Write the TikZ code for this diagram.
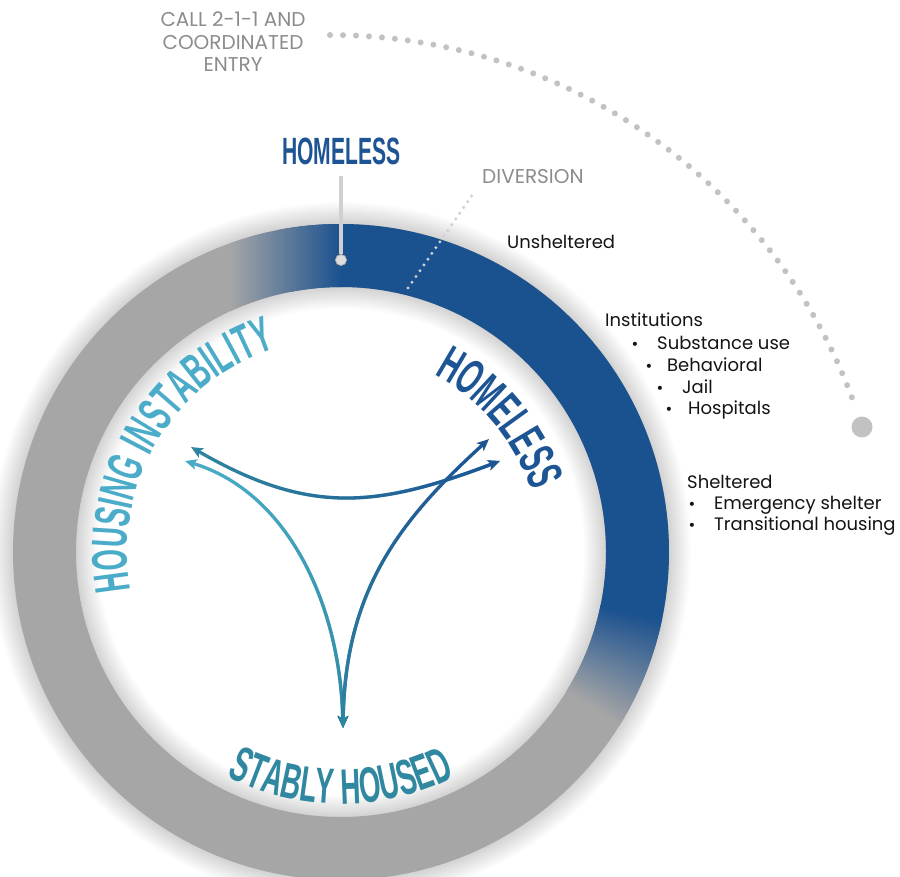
\documentclass[tikz,border=0pt]{standalone}
\usepackage{fontspec}
\setmainfont{Poppins}
\newfontfamily\condfont{Liberation Sans}[FakeStretch=0.555]
\newfontfamily\bulletfont{DejaVu Sans}
\usetikzlibrary{arrows.meta,decorations.text,fadings}
\definecolor{ringblue}{RGB}{26,81,143}
\definecolor{ringgray}{RGB}{166,166,166}
\definecolor{hiblue}{RGB}{74,172,200}
\definecolor{tealc}{RGB}{47,135,160}
\definecolor{darkc}{RGB}{29,84,148}
\definecolor{lblgray}{RGB}{140,140,140}
\definecolor{dotgray}{RGB}{194,194,194}
\definecolor{pingray}{RGB}{208,208,208}
\definecolor{txtblack}{RGB}{20,20,20}
\newcommand\curvefont{\condfont\bfseries\fontsize{50}{50}\selectfont}
\tikzfading[name=fadeToRight, left color=transparent!100, right color=transparent!0]
\tikzfading[name=fadeToBottom, top color=transparent!100, bottom color=transparent!0]
\tikzset{
  graylbl/.style={font=\fontsize{20}{20}\selectfont, text=lblgray, inner sep=0pt},
  blacklbl/.style={font=\fontsize{18}{18}\selectfont, text=txtblack, inner sep=0pt, anchor=base west},
  bul/.style={font=\bulletfont\fontsize{14}{14}\selectfont, text=txtblack, inner sep=0pt, anchor=base},
  arr/.style={line width=3.3pt, {Stealth[length=12pt,width=10.5pt,inset=3pt]}-{Stealth[length=12pt,width=10.5pt,inset=3pt]}},
  shadowline/.style={black, opacity=0.009},
}
\begin{document}
\begin{tikzpicture}[x=1pt,y=-1pt]
\useasboundingbox (0,0) rectangle (900,877);
\fill[white] (0,0) rectangle (900,877);
\clip (0,0) rectangle (900,877);

% ---- ring with shadows ----
\begin{scope}[shift={(341,552)}, yscale=-1]
  \foreach \i in {1,...,22} {
    \draw[shadowline, line width=\i*2pt] (0,0) circle (328);
    \draw[shadowline, line width=\i*2pt] (0,0) circle (265);
  }
  % base: grey annulus, blue sector
  \fill[ringgray, even odd rule] (0,0) circle (328) (0,0) circle (265);
  \fill[ringblue] (101:328) arc[start angle=101, end angle=-12, radius=328]
     -- (-12:265) arc[start angle=-12, end angle=101, radius=265] -- cycle;
  % top transition (grey -> blue)
  \begin{scope}[even odd rule]
    \clip (0,0) circle (328) (0,0) circle (265);
    \shade[left color=ringgray, right color=ringblue] (-111,200) rectangle (0,340);
  \end{scope}
  % lower-right transition (blue -> grey)
  \foreach \k in {0,...,80} {
    \pgfmathsetmacro\ang{-32+\k/4}
    \pgfmathtruncatemacro\p{\k*1.25}
    \fill[ringblue!\p!ringgray] (\ang:328) arc[start angle=\ang, end angle=\ang+0.5, radius=328]
      -- (\ang+0.5:265) arc[start angle=\ang+0.5, end angle=\ang, radius=265] -- cycle;
  }
  % curved labels
  \path[decorate, color=hiblue, decoration={text along path, text align=center,
      text={|\curvefont\color{hiblue}|HOUSING INSTABILITY}}]
      (230:214) arc[start angle=230, end angle=68, radius=214];
  \path[decorate, color=darkc, decoration={text along path, text align=center,
      text={|\curvefont\color{darkc}|HOMELESS}}]
      (120:200) arc[start angle=120, end angle=-40, radius=200];
  \path[decorate, color=tealc, decoration={text along path, text align=center,
      text={|\curvefont\color{tealc}|STABLY HOUSED}}]
      (-170:252) arc[start angle=-170, end angle=-10, radius=252];
\end{scope}

% ---- big dotted arc to the ring ----
\node[circle, fill=dotgray, minimum size=21pt, inner sep=0pt] (bigdot) at (862,427) {};
\begin{scope}[shift={(330,592)}, yscale=-1]
  \draw[dotgray, line width=6pt, line cap=round, dash pattern=on 0pt off 13pt]
    (90:557) arc[start angle=90, end angle=19.3, radius=557];
\end{scope}

% ---- diversion dotted line ----
\coordinate (divA) at (408,288);
\coordinate (divB) at (473,194);
\draw[pingray, line width=3.3pt, line cap=round, dash pattern=on 0pt off 7pt] (divA) -- (divB);

% ---- pin ----
\coordinate (pintop) at (341,176);
\node[circle, fill=pingray!70!white, draw=pingray!80!black, line width=0.6pt, minimum size=11pt, inner sep=0pt] (pindot) at (341,260) {};
\draw[pingray, line width=3.6pt] (pintop) -- (pindot);
\node[circle, fill=pingray!70!white, draw=pingray!80!black, line width=0.6pt, minimum size=11pt, inner sep=0pt] at (pindot) {};

% ---- labels ----
\node[font=\condfont\bfseries\fontsize{38}{38}\selectfont, text=darkc, anchor=base, inner sep=0pt] (hometop) at (341.5,165) {HOMELESS};
\node[graylbl, anchor=base] (call1) at (233,27) {CALL 2-1-1 AND};
\node[graylbl, anchor=base] (call2) at (233,49.5) {COORDINATED};
\node[graylbl, anchor=base] (call3) at (233,72) {ENTRY};
\node[graylbl, anchor=base west] (diversion) at (482,184) {DIVERSION};

\node[blacklbl] (unsh) at (507,249) {Unsheltered};
\node[blacklbl] (inst) at (605,327) {Institutions};
\node[bul] (b1) at (635,350) {•};
\node[blacklbl] (subst) at (657,350) {Substance use};
\node[bul] (b2) at (649,371.5) {•};
\node[blacklbl] (behav) at (667,371.5) {Behavioral};
\node[bul] (b3) at (660,393) {•};
\node[blacklbl] (jail) at (682,393) {Jail};
\node[bul] (b4) at (669,414.5) {•};
\node[blacklbl] (hosp) at (688,414.5) {Hospitals};
\node[blacklbl] (shelt) at (687,488) {Sheltered};
\node[bul] (b5) at (692,509) {•};
\node[blacklbl] (emerg) at (714,509) {Emergency shelter};
\node[bul] (b6) at (692,530) {•};
\node[blacklbl] (trans) at (714,530) {Transitional housing};

% ---- arrows ----
\coordinate (hiA) at (191,447);
\coordinate (hiB) at (185,461);
\coordinate (hmA) at (500,461);
\coordinate (hmB) at (489,439);
\coordinate (sh) at (343,728);
\draw[arr, tealc] (hiA) .. controls (308,515) and (376,508) .. (hmA);
\draw[arr, darkc, path fading=fadeToRight] (hiA) .. controls (308,515) and (376,508) .. (hmA);
\draw[arr, hiblue] (hiB) .. controls (285,491) and (340,600) .. (sh);
\draw[arr, tealc, path fading=fadeToBottom] (hiB) .. controls (285,491) and (340,600) .. (sh);
\draw[arr, darkc] (hmB) .. controls (400,520) and (345,590) .. (sh);
\draw[arr, tealc, path fading=fadeToBottom] (hmB) .. controls (400,520) and (345,590) .. (sh);
\end{tikzpicture}
\end{document}
